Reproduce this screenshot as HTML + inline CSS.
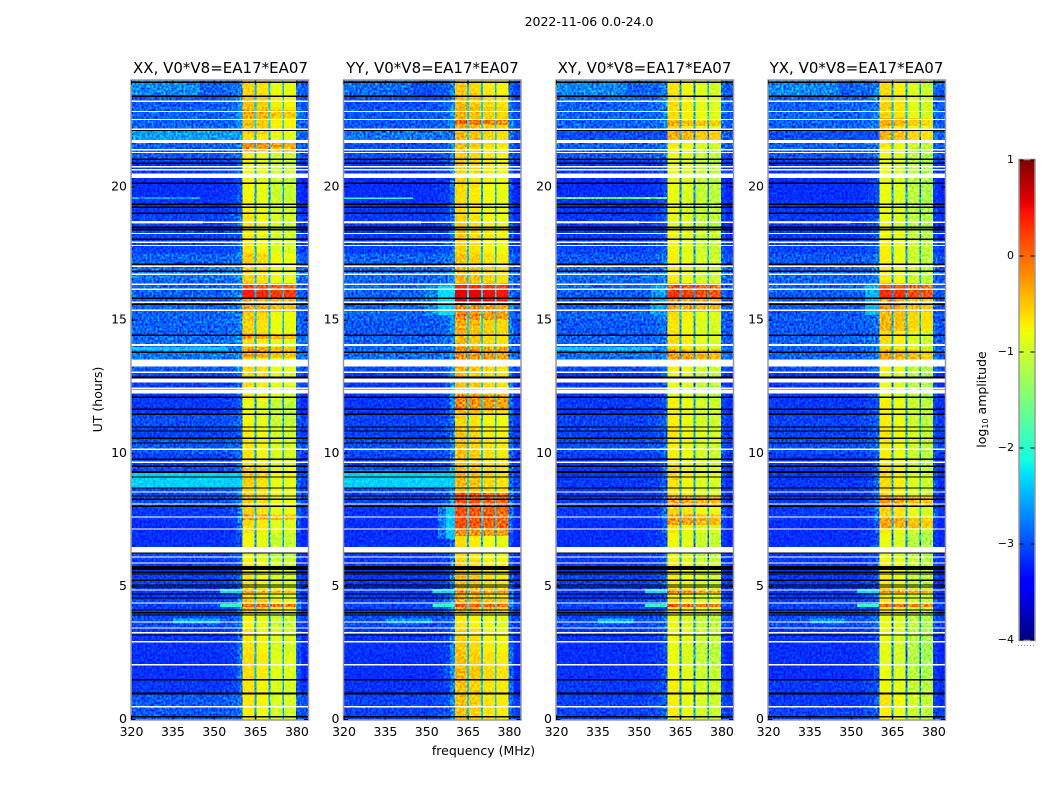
<!DOCTYPE html>
<html>
<head>
<meta charset="utf-8">
<title>2022-11-06 amplitude waterfall</title>
<style>
html,body{margin:0;padding:0;background:#fff;width:1050px;height:800px;overflow:hidden}
svg{display:block;font-family:"DejaVu Sans","Liberation Sans",sans-serif;fill:#000}
</style>
</head>
<body>
<svg id="fig" width="1050" height="800" viewBox="0 0 1050 800" xmlns="http://www.w3.org/2000/svg">
  <defs>
    <filter id="speckle" x="0" y="0" width="100%" height="100%" color-interpolation-filters="sRGB">
      <feTurbulence type="fractalNoise" baseFrequency="0.5 0.42" numOctaves="1" seed="4"/>
      <feColorMatrix type="matrix" values="1 0 0 0 0  1 0 0 0 0  1 0 0 0 0  0 0 0 0 1"/>
      <feComponentTransfer>
        <feFuncR type="linear" slope="1.9" intercept="-0.45"/>
        <feFuncG type="linear" slope="1.9" intercept="-0.45"/>
        <feFuncB type="linear" slope="1.9" intercept="-0.45"/>
      </feComponentTransfer>
    </filter>
  </defs>
  <rect width="1050" height="800" fill="#fff"/>
  <text x="589" y="26" font-size="12.5" text-anchor="middle">2022-11-06 0.0-24.0</text>
  <g id="panel-0"></g>
  <g id="panel-1"></g>
  <g id="panel-2"></g>
  <g id="panel-3"></g>
  <text x="220.5" y="73" font-size="15" text-anchor="middle">XX, V0*V8=EA17*EA07</text>
  <text x="432.5" y="73" font-size="15" text-anchor="middle">YY, V0*V8=EA17*EA07</text>
  <text x="644.5" y="73" font-size="15" text-anchor="middle">XY, V0*V8=EA17*EA07</text>
  <text x="856.5" y="73" font-size="15" text-anchor="middle">YX, V0*V8=EA17*EA07</text>
  <text x="483.5" y="755" font-size="12.5" text-anchor="middle">frequency (MHz)</text>
  <text x="0" y="0" font-size="12.5" text-anchor="middle" transform="translate(102,399.5) rotate(-90)">UT (hours)</text>
  <g id="colorbar"></g>
  <text x="0" y="0" font-size="12.5" text-anchor="middle" transform="translate(986,399.5) rotate(-90)">log<tspan font-size="8" dy="2">10</tspan><tspan dy="-2"> amplitude</tspan></text>
  <line x1="1018" y1="645.5" x2="1034" y2="645.5" stroke="#888" stroke-width="1" stroke-dasharray="1 2"/>
</svg>
<script>
const SVGNS = 'http://www.w3.org/2000/svg';

// ---- Axis labels ----
const xTickValues = [320, 335, 350, 365, 380];
const yTickValues = [0, 5, 10, 15, 20];
const colorbarTicks = [1, 0, -1, -2, -3, -4];

// ---- Half-hour segment levels (log10 amplitude), index 0 is 0.0-0.5 UT ----
const segmentHours = 0.5;
const lowXX = [-2.9,-2.9,-3.05,-3.08,-3.1,-3.08,-3.05,-2.95,-3.0,-3.05,-3.0,-3.05,-3.0,-3.1,-3.1,-3.05,-2.95,-2.95,-2.95,-3.0,-2.9,-3.0,-2.95,-3.05,-3.05,-3.0,-2.9,-2.75,-2.8,-2.85,-2.85,-2.85,-2.85,-2.75,-2.85,-3.0,-3.0,-3.0,-3.05,-3.1,-3.1,-3.05,-2.9,-2.85,-2.85,-2.85,-2.9,-2.85];
const lowYY = [-3.0,-3.0,-3.08,-3.1,-3.1,-3.08,-3.05,-2.95,-3.0,-3.05,-3.05,-3.05,-3.05,-3.1,-3.1,-3.08,-3.0,-2.95,-2.95,-3.0,-2.95,-3.0,-3.0,-3.05,-3.05,-3.05,-2.95,-2.8,-2.85,-2.9,-2.85,-2.85,-2.85,-2.8,-2.85,-3.0,-3.05,-3.05,-3.05,-3.1,-3.1,-3.05,-2.95,-2.95,-2.9,-2.9,-2.95,-2.95];
const lowXY = [-3.0,-3.0,-3.05,-3.08,-3.1,-3.1,-3.05,-2.95,-3.0,-3.05,-3.0,-3.05,-3.05,-3.1,-3.1,-3.05,-3.05,-3.05,-3.05,-3.05,-2.95,-3.0,-3.0,-3.05,-3.05,-3.05,-2.95,-2.8,-2.85,-2.9,-2.85,-2.9,-2.85,-2.8,-2.9,-3.0,-3.05,-3.05,-3.05,-3.1,-3.1,-3.05,-2.9,-2.85,-2.85,-2.85,-2.85,-2.85];
const lowYX = [-3.0,-3.05,-3.05,-3.1,-3.1,-3.1,-3.05,-2.95,-3.0,-3.05,-3.05,-3.05,-3.05,-3.1,-3.1,-3.05,-3.05,-3.05,-3.05,-3.05,-2.95,-3.0,-3.0,-3.05,-3.05,-3.05,-2.95,-2.85,-2.85,-2.9,-2.9,-2.9,-2.85,-2.85,-2.9,-3.0,-3.05,-3.05,-3.05,-3.1,-3.1,-3.05,-2.9,-2.85,-2.85,-2.85,-2.85,-2.85];

const winXX = [-0.55,-0.5,-0.5,-0.45,-0.45,-0.5,-0.5,-0.6,-0.3,-0.45,-0.5,-0.55,-0.65,-0.6,-0.45,-0.4,-0.35,-0.4,-0.35,-0.5,-0.5,-0.55,-0.6,-0.65,-0.5,-0.45,-0.4,-0.45,-0.45,-0.4,-0.35,-0.3,-0.4,-0.4,-0.35,-0.5,-0.55,-0.5,-0.55,-0.6,-0.6,-0.6,-0.55,-0.45,-0.3,-0.25,-0.3,-0.4];
const winYY = [-0.35,-0.35,-0.35,-0.3,-0.35,-0.4,-0.45,-0.55,-0.2,-0.3,-0.35,-0.4,-0.5,-0.5,-0.4,-0.3,-0.25,-0.3,-0.3,-0.35,-0.35,-0.4,-0.45,-0.3,-0.3,-0.3,-0.3,-0.3,-0.3,-0.25,-0.3,-0.2,-0.3,-0.3,-0.35,-0.45,-0.4,-0.45,-0.5,-0.5,-0.45,-0.4,-0.4,-0.3,-0.25,-0.25,-0.3,-0.4];
const winXY = [-0.6,-0.6,-0.6,-0.65,-0.7,-0.7,-0.65,-0.7,-0.5,-0.55,-0.6,-0.6,-0.7,-0.65,-0.55,-0.45,-0.5,-0.55,-0.5,-0.6,-0.6,-0.55,-0.6,-0.6,-0.7,-0.7,-0.6,-0.5,-0.5,-0.55,-0.5,-0.45,-0.55,-0.6,-0.6,-0.65,-0.65,-0.7,-0.7,-0.7,-0.7,-0.7,-0.65,-0.55,-0.5,-0.5,-0.5,-0.55];
const winYX = [-0.6,-0.55,-0.65,-0.7,-0.75,-0.75,-0.7,-0.7,-0.55,-0.55,-0.6,-0.6,-0.7,-0.7,-0.55,-0.45,-0.5,-0.5,-0.5,-0.6,-0.6,-0.55,-0.6,-0.6,-0.7,-0.7,-0.65,-0.5,-0.5,-0.5,-0.45,-0.4,-0.55,-0.6,-0.6,-0.6,-0.65,-0.7,-0.7,-0.7,-0.7,-0.7,-0.65,-0.55,-0.45,-0.45,-0.45,-0.5];

const lowSeries = [lowXX, lowYY, lowXY, lowYX];
const winSeries = [winXX, winYY, winXY, winYX];

// Level offset of each of the four bright windows, per panel
const windowOffsetsXX = [-0.17, -0.25, -0.42, -0.45];
const windowOffsetsYY = [-0.12, -0.2, -0.3, -0.35];
const windowOffsetsXY = [-0.12, -0.22, -0.35, -0.4];
const windowOffsetsYX = [-0.12, -0.22, -0.4, -0.5];
const windowOffsets = [windowOffsetsXX, windowOffsetsYY, windowOffsetsXY, windowOffsetsYX];

// ---- Frequency structure (MHz) ----
const windowStarts = [360.2, 365, 370, 375];
const windowEnds = [365, 370, 375, 379.6];
const gapCentres = [365, 370, 375];
const lowEdges = [320, 325, 330, 335, 340, 345, 350, 353, 356, 358.5, 360.2];
const lowOffsets = [-0.05, -0.05, -0.05, -0.05, -0.05, -0.05, -0.05, -0.02, 0.02, 0.1];
const leakDrop = [9, 9, 9, 9, 9, 9, 9, 3.0, 2.7, 2.35];
const rightEdges = [379.6, 381.5, 384];

// ---- Localised bright features: [utStart, utEnd, freqStart, freqEnd, level] ----
const bandEventsXX = [[8.7,9.3,320,360.2,-2.35],[21.72,22.1,320,360.2,-2.6],[18.62,18.72,320,346,-1.0],[19.55,19.63,320,345,-2.6],[13.85,14.0,320,355,-2.4],[23.45,24,320,345,-2.7],[3.6,3.8,335,352,-2.5],[4.75,4.9,352,360,-2.3],[4.22,4.33,352,360,-2.0]];
const bandEventsYY = [[8.7,9.35,320,360.2,-2.35],[21.72,22.1,320,360.2,-2.8],[18.62,18.72,320,348,-1.8],[19.55,19.6,320,345,-2.0],[15.2,16.3,349,354,-2.7],[15.2,16.3,354,360.2,-2.3],[6.8,8.0,354,357,-2.8],[6.8,8.0,357,360.2,-2.4],[4.22,4.33,352,360,-2.0],[4.75,4.9,352,360,-2.3],[3.6,3.8,335,352,-2.6],[23.45,24,320,345,-2.85]];
const bandEventsXY = [[21.72,22.1,320,360.2,-3.0],[19.55,19.63,320,360,-1.6],[18.62,18.72,320,350,-1.5],[12.82,12.88,320,348,-1.2],[13.85,14.0,320,355,-2.4],[15.2,16.3,354,360.2,-2.6],[4.22,4.33,352,360,-2.0],[4.75,4.9,352,360,-2.3],[3.6,3.8,335,348,-2.5],[23.45,24,320,345,-2.7]];
const bandEventsYX = [[21.72,22.1,320,360.2,-3.0],[18.62,18.72,320,350,-1.9],[12.82,12.88,320,348,-1.5],[15.2,16.3,355,360.2,-2.5],[4.22,4.33,352,360,-2.0],[4.75,4.9,352,360,-2.3],[3.6,3.8,335,348,-2.6],[23.45,24,320,345,-2.7]];
const bandEvents = [bandEventsXX, bandEventsYY, bandEventsXY, bandEventsYX];

// Hot intervals across the bright windows: [utStart, utEnd, level]
const hotBandsXX = [[15.8,16.15,0.5],[16.15,16.4,0.3],[15.3,15.8,-0.2],[4.22,4.33,0.15],[4.75,4.9,-0.2],[21.35,21.65,-0.1],[22.6,22.9,-0.25],[7.5,7.7,-0.2],[14.3,14.5,-0.2],[13.6,14,-0.2]];
const hotBandsYY = [[15.6,16.15,0.65],[16.15,16.4,0.45],[7.2,8.5,0.22],[6.9,7.2,-0.1],[4.22,4.33,0.2],[4.75,4.9,-0.1],[22.35,22.55,0.1],[11.6,12.2,-0.1],[15.0,15.6,-0.1],[13.5,14,-0.1]];
const hotBandsXY = [[15.8,16.15,0.35],[16.15,16.4,0.2],[15.3,15.8,-0.2],[4.22,4.33,0.12],[4.75,4.9,-0.1],[7.3,7.7,-0.2],[8.0,8.4,-0.2],[21.7,22.1,-0.3],[22.3,22.5,-0.3],[13.5,13.9,-0.2]];
const hotBandsYX = [[15.8,16.15,0.4],[16.15,16.4,0.25],[15.3,15.8,-0.2],[14.6,15.3,-0.35],[4.22,4.33,0.12],[4.75,4.9,-0.1],[7.2,7.6,-0.25],[8.0,8.4,-0.2],[22.3,22.6,-0.3],[21.7,22.1,-0.35],[13.5,13.9,-0.25]];
const hotBands = [hotBandsXX, hotBandsYY, hotBandsXY, hotBandsYX];

// ---- Flagged integrations, shared by all panels: [utStart, durationHours] ----
const blackFlags = [[23.9,0.06],[23.38,0.05],[22.11,0.05],[21.02,0.05],[20.87,0.05],[20.12,0.05],[19.33,0.05],[19.22,0.05],[18.99,0.05],[18.44,0.08],[18.37,0.05],[18.01,0.05],[17.07,0.05],[16.8,0.07],[15.8,0.05],[15.57,0.05],[14.41,0.05],[13.77,0.05],[13.25,0.05],[12.81,0.08],[12.08,0.05],[11.63,0.05],[11.44,0.05],[10.96,0.05],[10.81,0.05],[10.54,0.05],[10.36,0.05],[9.75,0.05],[9.49,0.05],[9.26,0.08],[9.08,0.05],[8.67,0.05],[8.37,0.05],[8.25,0.05],[7.99,0.05],[6.23,0.05],[5.62,0.14],[5.51,0.05],[5.44,0.05],[5.21,0.05],[5.03,0.05],[4.95,0.05],[4.69,0.05],[4.54,0.05],[4.09,0.05],[3.98,0.05],[3.9,0.05],[3.15,0.05],[1.46,0.07],[0.94,0.08],[0.07,0.07]];
const whiteFlags = [[23.19,0.05],[22.81,0.05],[22.51,0.05],[22.14,0.05],[21.66,0.1],[21.38,0.05],[21.27,0.05],[20.74,0.05],[20.62,0.05],[20.33,0.18],[18.65,0.05],[18.23,0.05],[17.9,0.05],[17.78,0.05],[17.0,0.05],[16.7,0.05],[16.32,0.05],[16.13,0.05],[15.65,0.05],[15.35,0.05],[14.02,0.08],[13.26,0.27],[13.02,0.05],[12.66,0.15],[12.42,0.05],[12.25,0.15],[10.13,0.05],[9.64,0.05],[8.52,0.05],[8.07,0.05],[7.58,0.05],[7.13,0.05],[6.28,0.19],[6.08,0.05],[5.85,0.05],[4.84,0.05],[4.35,0.05],[3.64,0.05],[3.41,0.05],[3.23,0.05],[2.89,0.05],[2.03,0.05],[0.45,0.05]];

// ---- Geometry and axis functions ----
const panelLefts = [131.5, 344, 556.5, 768.5];
const panelWidth = 176.5;
const plotTop = 80.5;
const plotBottom = 719.5;
const freqMin = 320, freqMax = 384, utMin = 0, utMax = 24;
const xScale = (f, p) => panelLefts[p] + (f - freqMin) / (freqMax - freqMin) * panelWidth;
const yScale = u => plotBottom - (u - utMin) / (utMax - utMin) * (plotBottom - plotTop);

const levelMin = -4, levelMax = 1;
function ramp(v, a, b) { return Math.max(0, Math.min(1, (v - a) / (b - a))); }
function jet(level) {
  const t = Math.max(0, Math.min(1, (level - levelMin) / (levelMax - levelMin)));
  const r = t < 0.89 ? ramp(t, 0.35, 0.66) : 1 - 0.5 * ramp(t, 0.89, 1);
  const g = t < 0.64 ? ramp(t, 0.125, 0.375) : 1 - ramp(t, 0.64, 0.91);
  const b = t < 0.34 ? 0.5 + 0.5 * ramp(t, 0, 0.11) : 1 - ramp(t, 0.34, 0.65);
  return 'rgb(' + Math.round(r * 255) + ',' + Math.round(g * 255) + ',' + Math.round(b * 255) + ')';
}

function addRect(parent, x, y, w, h, fill) {
  const r = document.createElementNS(SVGNS, 'rect');
  r.setAttribute('x', x.toFixed(2));
  r.setAttribute('y', y.toFixed(2));
  r.setAttribute('width', w.toFixed(2));
  r.setAttribute('height', h.toFixed(2));
  r.setAttribute('fill', fill);
  r.setAttribute('shape-rendering', 'crispEdges');
  parent.appendChild(r);
  return r;
}
function addLine(parent, x1, y1, x2, y2, color, width) {
  const l = document.createElementNS(SVGNS, 'line');
  l.setAttribute('x1', x1);
  l.setAttribute('y1', y1);
  l.setAttribute('x2', x2);
  l.setAttribute('y2', y2);
  l.setAttribute('stroke', color);
  l.setAttribute('stroke-width', width);
  parent.appendChild(l);
  return l;
}
function addText(parent, x, y, str, anchor, size) {
  const t = document.createElementNS(SVGNS, 'text');
  t.setAttribute('x', x);
  t.setAttribute('y', y);
  t.setAttribute('text-anchor', anchor);
  t.setAttribute('font-size', size);
  t.textContent = str;
  parent.appendChild(t);
  return t;
}
function minusLabel(v) { return v < 0 ? '\u2212' + Math.abs(v) : String(v); }

function cellRect(g, p, f0, f1, u0, u1, level) {
  const cell = addRect(g, xScale(f0, p), yScale(u1), xScale(f1, p) - xScale(f0, p), yScale(u0) - yScale(u1), jet(level));
  
  
  return cell;
}

function drawPanel(p) {
  const g = document.getElementById('panel-' + p);
  const low = lowSeries[p];
  const win = winSeries[p];
  const offs = windowOffsets[p];
  const x0 = panelLefts[p];
  const x1 = x0 + panelWidth;

  low.forEach((lv, i) => {
    const u0 = i * segmentHours;
    const u1 = u0 + segmentHours;
    for (let c = 0; c < lowOffsets.length; c++) {
      const v = Math.max(lv + lowOffsets[c], win[i] - leakDrop[c]);
      cellRect(g, p, lowEdges[c], lowEdges[c + 1], u0, u1, v);
    }
    windowStarts.forEach((f, k) => {
      cellRect(g, p, f, windowEnds[k], u0, u1, win[i] + offs[k]);
    });
    cellRect(g, p, rightEdges[0], rightEdges[1], u0, u1, Math.max(lv, win[i] - 2.5));
    cellRect(g, p, rightEdges[1], rightEdges[2], u0, u1, lv - 0.1);
  });

  bandEvents[p].forEach(ev => {
    cellRect(g, p, ev[2], ev[3], ev[0], ev[1], ev[4]);
  });
  hotBands[p].forEach(hb => {
    windowStarts.forEach((f, k) => {
      cellRect(g, p, f, windowEnds[k], hb[0], hb[1], hb[2] + offs[k] * 0.6);
    });
  });
  // Narrow dips between the bright windows
  win.forEach((w, i) => {
    const u0 = i * segmentHours;
    gapCentres.forEach(f => {
      cellRect(g, p, f - 0.32, f + 0.32, u0, u0 + segmentHours, w - 2.05);
    });
  });

  const grain = addRect(g, x0, plotTop, panelWidth, plotBottom - plotTop, '#808080');
  grain.setAttribute('filter', 'url(#speckle)');
  grain.setAttribute('style', 'mix-blend-mode:overlay');
  
  

  blackFlags.forEach(fl => {
    const bar = addRect(g, x0, yScale(fl[0] + fl[1]), panelWidth, Math.max(1, yScale(fl[0]) - yScale(fl[0] + fl[1])), '#000');
    
    
  });
  whiteFlags.forEach(fl => {
    const bar = addRect(g, x0, yScale(fl[0] + fl[1]), panelWidth, Math.max(1, yScale(fl[0]) - yScale(fl[0] + fl[1])), '#fff');
    
    
  });

  const frame = document.createElementNS(SVGNS, 'rect');
  frame.setAttribute('x', x0 - 0.5);
  frame.setAttribute('y', plotTop - 0.5);
  frame.setAttribute('width', panelWidth + 1);
  frame.setAttribute('height', plotBottom - plotTop + 1);
  frame.setAttribute('fill', 'none');
  frame.setAttribute('stroke', '#9a9a9a');
  frame.setAttribute('stroke-width', '1.5');
  
  
  g.appendChild(frame);

  xTickValues.forEach(v => {
    const x = xScale(v, p);
    const tick = addLine(g, x, plotBottom, x, plotBottom - 4, '#000', 1);
    
    
    const top = addLine(g, x, plotTop, x, plotTop + 4, '#000', 1);
    
    
    const lab = addText(g, x, 736, String(v), 'middle', 12.5);
    
    
  });
  yTickValues.forEach(v => {
    const y = yScale(v);
    const tick = addLine(g, x0, y, x0 + 4, y, '#000', 1);
    
    
    const right = addLine(g, x1, y, x1 - 4, y, '#000', 1);
    
    
    const lab = addText(g, x0 - 4.5, y + 3.5, String(v), 'end', 12.5);
    
    
  });
}

function drawColorbar() {
  const g = document.getElementById('colorbar');
  const cbLeft = 1019.5, cbWidth = 15, cbTop = 160, cbBottom = 640;
  const cbY = v => cbBottom - (v - levelMin) / (levelMax - levelMin) * (cbBottom - cbTop);
  for (let px = 0; px < cbBottom - cbTop; px += 2) {
    const lv = levelMin + (px + 1) / (cbBottom - cbTop) * (levelMax - levelMin);
    const seg = addRect(g, cbLeft, cbBottom - px - 2, cbWidth, 2, jet(lv));
    
    
  }
  const frame = document.createElementNS(SVGNS, 'rect');
  frame.setAttribute('x', cbLeft - 0.5);
  frame.setAttribute('y', cbTop - 0.5);
  frame.setAttribute('width', cbWidth + 1);
  frame.setAttribute('height', cbBottom - cbTop + 1);
  frame.setAttribute('fill', 'none');
  frame.setAttribute('stroke', '#9a9a9a');
  frame.setAttribute('stroke-width', '1.5');
  
  
  g.appendChild(frame);
  colorbarTicks.forEach(v => {
    const y = cbY(v);
    const a = addLine(g, cbLeft, y, cbLeft + 4, y, '#000', 1);
    
    
    const b = addLine(g, cbLeft + cbWidth, y, cbLeft + cbWidth - 4, y, '#000', 1);
    
    
    const lab = addText(g, 1014, y + 3, minusLabel(v), 'end', 11);
    
    
  });
}

[0, 1, 2, 3].forEach(drawPanel);
drawColorbar();
</script>
</body>
</html>
